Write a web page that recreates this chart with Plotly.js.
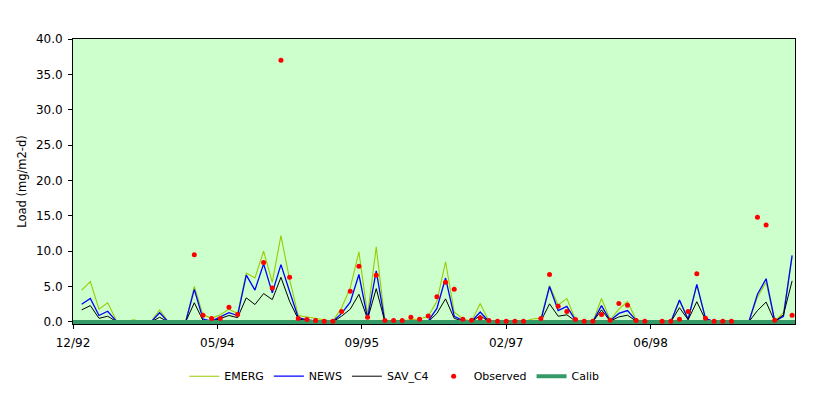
<!DOCTYPE html>
<html>
<head>
<meta charset="utf-8">
<script src="https://cdn.plot.ly/plotly-3.0.1.min.js"></script>
<style>
html,body{margin:0;padding:0;background:#ffffff;}
#chart{width:829px;height:396px;}
</style>
</head>
<body>
<div id="chart"></div>
<script>
// sample day offsets from the axis origin (12/92), one sample every ~30 days
const days = [30,60,90,120,150,180,210,240,270,300,330,360,390,420,450,480,510,540,570,600,
  630,660,690,720,750,780,810,840,870,900,930,960,990,1020,1050,1080,1110,1140,1170,1200,
  1230,1260,1290,1320,1350,1380,1410,1440,1470,1500,1530,1560,1590,1620,1650,1680,1710,1740,1770,1800,
  1830,1860,1890,1920,1950,1980,2010,2040,2070,2100,2130,2160,2190,2220,2250,2280,2310,2340,2370,2400,
  2430,2460,2490];

const emerg = [4.5,5.7,1.8,2.7,0.2,0,0.3,0,0,1.7,0,0,0,5.0,1.0,0.5,1.0,1.8,1.2,6.9,
  6.2,10.0,5.6,12.2,6.0,0.9,0.7,0.5,0.3,0.1,2.0,4.8,9.9,1.0,10.6,0.2,0.15,0.15,0.3,0.4,
  0.8,2.9,8.5,1.4,0.4,0.1,2.6,0.1,0,0,0,0,0.4,0.5,5.1,2.4,3.3,0.3,0,0,
  3.3,0.3,1.8,2.85,0.3,0,0,0,0,2.9,0.4,5.2,0.5,0,0,0,0,0,3.5,5.6,
  0.1,1.3,9.2];

const news = [2.5,3.3,0.9,1.5,0.1,0,0.1,0,0,1.3,0,0,0,4.6,0.4,0.1,0.7,1.3,0.9,6.6,
  4.5,8.2,4.1,8.1,4.3,0.6,0.3,0.1,0.1,0.05,1.2,2.8,6.7,0.5,7.2,0,0,0,0,0,
  0.1,1.9,6.2,0.8,0.2,0.05,1.4,0.05,0,0,0,0,0,0.2,5.0,1.6,2.2,0.2,0,0,
  2.3,0.15,1.2,1.6,0.2,0,0,0,0,3.1,0.35,5.3,0.5,0,0,0,0,0,3.9,6.1,
  0.1,0.8,9.4];

const savC4 = [1.7,2.3,0.5,0.8,0.05,0,0.05,0,0,0.65,0,0,0,2.7,0.2,0.05,0.5,0.9,0.6,3.4,
  2.45,4.0,3.15,6.3,2.9,0.4,0.2,0.05,0,0,0.8,1.8,3.9,0.4,4.7,0,0,0,0,0,
  0,1.2,3.25,0.5,0.1,0,0.9,0,0,0,0,0,0,0.1,2.55,0.8,1.0,0.1,0,0,
  1.7,0.1,0.7,0.94,0.1,0,0,0,0,2.0,0.3,2.85,0.3,0,0,0,0,0,1.6,2.8,
  0.05,1.0,5.8];

const observed = [null,null,null,null,null,null,null,null,null,null,null,null,null,9.5,0.94,0.47,0.47,2.07,1.03,null,
  null,8.4,4.8,37.0,6.3,0.47,0.33,0.2,0.08,0.08,1.48,4.33,7.85,0.65,6.6,0.18,0.18,0.18,0.65,0.37,
  0.82,3.56,5.6,4.6,0.37,0.23,0.56,0.2,0.08,0.08,0.08,0.08,null,0.47,6.69,2.2,1.48,0.35,0.08,0.08,
  1.05,0.23,2.6,2.35,0.2,0.08,null,0.08,0.08,0.38,1.45,6.8,0.5,0.08,0.08,0.08,null,null,14.8,13.7,
  0.23,null,0.94];

const calibX = [0, 2500];
const calibY = [0, 0];

const tickVals = [0, 500, 1000, 1500, 2000];
const tickText = ['12/92', '05/94', '09/95', '02/97', '06/98'];
const yTickVals = [0, 5, 10, 15, 20, 25, 30, 35, 40];

const font = 'DejaVu Sans, Liberation Sans, Arial, sans-serif';

const traces = [
  {x: days, y: emerg, name: 'EMERG', type: 'scatter', mode: 'lines',
   line: {color: '#99CC00', width: 1.1}, legendrank: 1},
  {x: days, y: news, name: 'NEWS', type: 'scatter', mode: 'lines',
   line: {color: '#0000FF', width: 1.3}, legendrank: 2},
  {x: days, y: savC4, name: 'SAV_C4', type: 'scatter', mode: 'lines',
   line: {color: '#000000', width: 1}, legendrank: 3},
  {x: calibX, y: calibY, name: 'Calib', type: 'scatter', mode: 'lines',
   line: {color: '#339966', width: 4}, legendrank: 5},
  {x: days, y: observed, name: 'Observed', type: 'scatter', mode: 'markers',
   marker: {color: '#FF0000', size: 5, symbol: 'circle'}, cliponaxis: false, legendrank: 4}
];

const layout = {
  width: 829, height: 396,
  margin: {l: 73, r: 34, t: 39, b: 72, autoexpand: false},
  paper_bgcolor: '#ffffff',
  plot_bgcolor: '#CCFFCC',
  font: {family: font, size: 12, color: '#000000'},
  showlegend: true,
  legend: {
    orientation: 'h', x: 0.445, xanchor: 'center',
    yref: 'container', y: 0.05, yanchor: 'middle',
    font: {family: font, size: 11, color: '#000000'},
    bgcolor: 'rgba(0,0,0,0)', itemwidth: 30, tracegroupgap: 0
  },
  xaxis: {
    type: 'linear', range: [0, 2500],
    tickmode: 'array', tickvals: tickVals, ticktext: tickText,
    ticks: 'outside', ticklen: 4, tickwidth: 1, tickcolor: '#000000',
    showline: true, linecolor: '#000000', linewidth: 1, mirror: true,
    showgrid: false, zeroline: false,
    ticklabelstandoff: 4,
    tickfont: {family: font, size: 12, color: '#000000'}
  },
  yaxis: {
    range: [-0.3, 40],
    tickmode: 'array', tickvals: yTickVals, tickformat: '.1f',
    ticks: 'outside', ticklen: 4, tickwidth: 1, tickcolor: '#000000',
    showline: true, linecolor: '#000000', linewidth: 1, mirror: true,
    showgrid: false, zeroline: false,
    ticklabelstandoff: 3,
    tickfont: {family: font, size: 12, color: '#000000'},
    title: {text: 'Load (mg/m2-d)', font: {family: font, size: 11.5, color: '#000000'}, standoff: 6}
  }
};

Plotly.newPlot('chart', traces, layout, {displayModeBar: false, staticPlot: true});
</script>
</body>
</html>
